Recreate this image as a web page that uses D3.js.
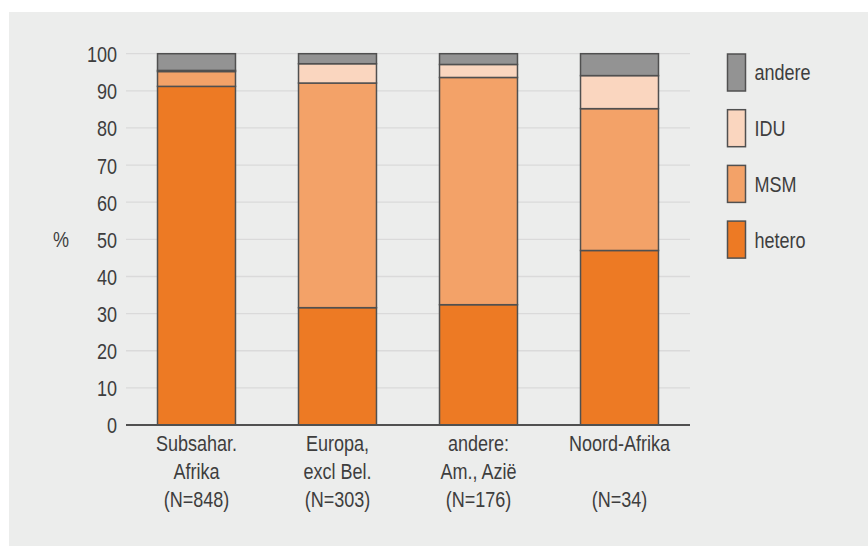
<!DOCTYPE html>
<html>
<head>
<meta charset="utf-8">
<script src="https://cdn.jsdelivr.net/npm/d3@7"></script>
<style>
  html, body { margin: 0; padding: 0; background: #ffffff; }
  svg { display: block; }
  text { font-family: "Liberation Sans", Arial, sans-serif; fill: #3e3e3e; }
</style>
</head>
<body>
<svg id="chart" width="868" height="546"></svg>
<script>
const categories = [
  ["Subsahar.", "Afrika", "(N=848)"],
  ["Europa,", "excl Bel.", "(N=303)"],
  ["andere:", "Am., Azië", "(N=176)"],
  ["Noord-Afrika", "", "(N=34)"]
];
const seriesNames = ["hetero", "MSM", "IDU", "andere"];
const hetero = [91.2, 31.6, 32.4, 47.0];
const msm    = [4.0, 60.5, 61.2, 38.2];
const idu    = [0.3, 5.2, 3.5, 8.9];
const andere = [4.5, 2.7, 2.9, 5.9];
const yTicks = [0, 10, 20, 30, 40, 50, 60, 70, 80, 90, 100];
const colors = ["#ed7a24", "#f3a268", "#fad6bf", "#939393"];

const FS = 22, SX = 0.82;
const svg = d3.select("#chart");
svg.append("rect").attr("x", 9).attr("y", 12).attr("width", 859).attr("height", 534).attr("fill", "#ecedec");

const x = d3.scaleBand().domain(d3.range(categories.length)).range([126, 690])
  .paddingInner(0.447).paddingOuter(0.2235);
const y = d3.scaleLinear().domain([0, 100]).range([425, 53.7]);

// gridlines
svg.append("g").selectAll("line").data(yTicks.filter(t => t > 0)).join("line")
  .attr("x1", 126).attr("x2", 690)
  .attr("y1", d => y(d)).attr("y2", d => y(d))
  .attr("stroke", "#dadada").attr("stroke-width", 1.3);

// y axis labels
const yAxis = d3.axisLeft(y).tickValues(yTicks).tickSize(0).tickPadding(0);
const gy = svg.append("g").attr("transform", "translate(117,0)").call(yAxis);
gy.select(".domain").remove();
gy.attr("font-family", null).attr("font-size", null);
gy.selectAll("text").attr("font-size", FS).attr("fill", "#3e3e3e")
  .attr("x", 0).attr("dy", "0.36em").attr("transform", `scale(${SX},1)`);

svg.append("text").attr("transform", `translate(61,${y(50)}) scale(${SX},1)`).attr("dy", "0.36em")
  .attr("text-anchor", "middle").attr("font-size", FS).text("%");

// stacked data
const table = categories.map((c, i) => ({ i, hetero: hetero[i], MSM: msm[i], IDU: idu[i], andere: andere[i] }));
const stack = d3.stack().keys(seriesNames)(table);

svg.append("g").selectAll("g").data(stack).join("g")
  .attr("fill", (d, k) => colors[k])
  .selectAll("rect").data(d => d).join("rect")
  .attr("x", d => x(d.data.i))
  .attr("width", x.bandwidth())
  .attr("y", d => y(d[1]))
  .attr("height", d => y(d[0]) - y(d[1]))
  .attr("stroke", "#505050").attr("stroke-width", 1.5);

// baseline
svg.append("line").attr("x1", 126).attr("x2", 690).attr("y1", y(0)).attr("y2", y(0))
  .attr("stroke", "#505050").attr("stroke-width", 1.8);

// x labels
categories.forEach((lines, i) => {
  lines.forEach((t, j) => {
    if (!t) return;
    svg.append("text")
      .attr("transform", `translate(${x(i) + x.bandwidth() / 2},${451 + j * 28}) scale(${SX},1)`)
      .attr("text-anchor", "middle").attr("font-size", FS).text(t);
  });
});

// legend
const legOrder = ["andere", "IDU", "MSM", "hetero"];
const lg = svg.append("g").selectAll("g").data(legOrder).join("g")
  .attr("transform", (d, j) => `translate(727.5,${54 + j * 55.7})`);
lg.append("rect").attr("width", 18).attr("height", 37)
  .attr("fill", d => colors[seriesNames.indexOf(d)])
  .attr("stroke", "#505050").attr("stroke-width", 1.5);
lg.append("text").attr("transform", `translate(27,18.5) scale(${SX},1)`).attr("dy", "0.36em")
  .attr("font-size", FS).text(d => d);
</script>
</body>
</html>
